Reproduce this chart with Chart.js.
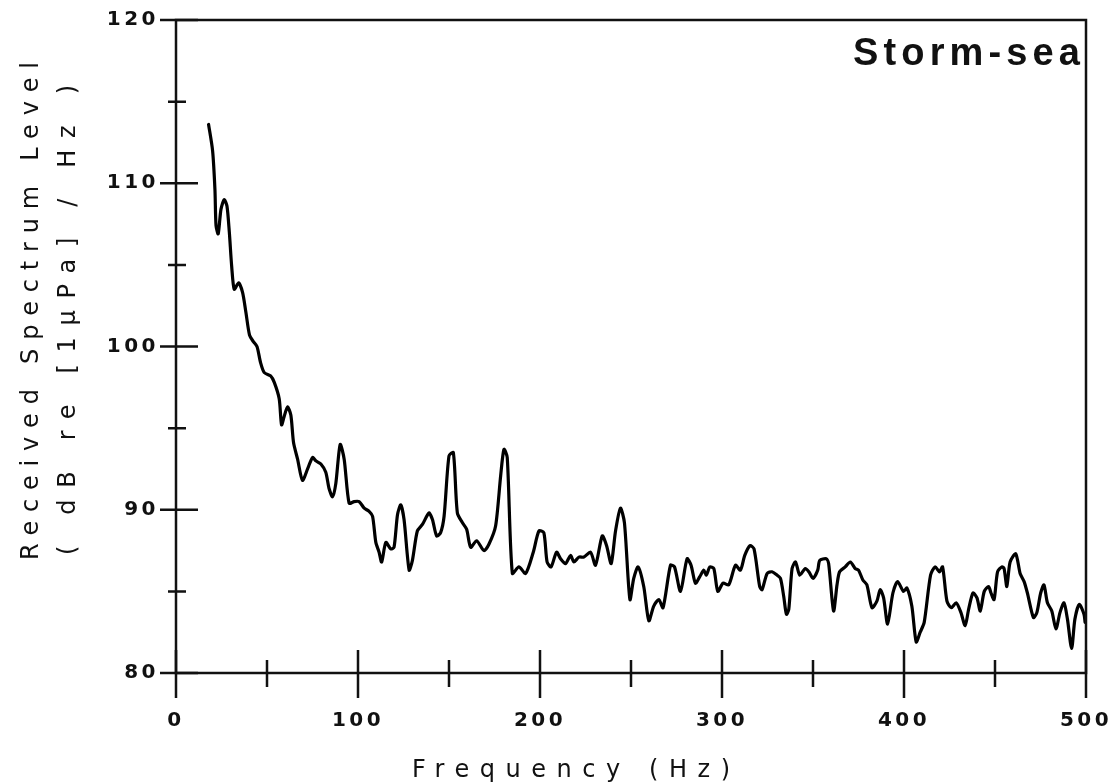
<!DOCTYPE html>
<html>
<head>
<meta charset="utf-8">
<title>Storm-sea spectrum</title>
<script src="https://cdn.jsdelivr.net/npm/chart.js@4.4.1/dist/chart.umd.min.js"></script>
<style>
  html, body { margin: 0; padding: 0; background: #fff; }
  #wrap { width: 1111px; height: 783px; }
</style>
</head>
<body>
<div id="wrap"><canvas id="spectrum" width="1111" height="783"></canvas></div>
<script>
// Frequency (Hz) and received level (dB)
const freqHz = [
  17.9, 20.1, 21.4, 22.0, 23.2, 24.7, 26.5, 28.0, 29.3, 30.6, 32.0, 34.4, 36.6, 38.4, 40.4, 42.5, 44.5, 46.5, 48.5, 52.0,
  54.0, 56.7, 58.0, 59.4, 61.3, 63.1, 64.6, 66.8, 69.5, 72.3, 75.0, 76.8, 79.6, 82.3, 84.1, 86.0, 87.8, 90.2, 92.4, 95.1,
  97.9, 100.6, 103.4, 106.1, 108.0, 109.8, 111.6, 113.0, 115.3, 118.0, 119.8, 121.7, 123.5, 125.3, 128.1, 129.9, 132.6, 135.4, 139.0, 140.9,
  143.2, 145.4, 147.3, 150.0, 152.4, 154.6, 157.4, 159.7, 161.9, 165.2, 169.2, 172.0, 175.6, 178.4, 180.2, 182.0, 184.8, 188.4, 192.1, 196.3,
  199.4, 202.1, 203.9, 206.1, 209.1, 211.3, 214.0, 216.8, 218.6, 221.4, 224.1, 227.8, 230.5, 234.2, 236.6, 239.1, 241.5, 244.2, 246.4, 249.4,
  251.5, 253.9, 257.0, 259.8, 262.5, 265.3, 267.6, 271.7, 273.9, 277.2, 280.8, 283.0, 285.4, 287.8, 290.0, 291.4, 293.3, 295.5, 297.7, 300.6,
  303.7, 307.4, 310.1, 312.5, 315.4, 317.6, 320.7, 322.0, 324.8, 327.5, 330.2, 332.1, 333.9, 335.4, 336.7, 338.5, 340.4, 342.7, 345.8, 347.7,
  350.0, 352.6, 353.7, 357.3, 358.6, 361.3, 363.2, 364.6, 367.7, 370.5, 373.2, 375.0, 377.4, 379.6, 382.4, 385.1, 386.9, 388.8, 391.0, 393.9,
  396.5, 399.7, 401.6, 404.3, 406.7, 408.9, 411.1, 414.6, 417.1, 419.5, 421.2, 423.6, 426.0, 428.7, 431.3, 433.6, 435.5, 437.9, 440.1, 441.9,
  444.1, 446.5, 447.8, 449.5, 451.4, 453.8, 455.0, 456.5, 458.3, 461.4, 463.8, 466.0, 467.8, 471.1, 473.0, 475.1, 476.9, 478.8, 481.2, 483.5,
  485.7, 487.9, 489.8, 492.1, 493.9, 496.3, 498.9, 499.5
];
const levelDb = [
  113.6, 112.0, 109.6, 107.4, 106.9, 108.4, 109.0, 108.6, 107.0, 104.9, 103.5, 103.9, 103.3, 102.1, 100.7, 100.3, 100.0, 99.0, 98.4, 98.2,
  97.8, 96.8, 95.2, 95.7, 96.3, 95.8, 94.1, 93.1, 91.8, 92.5, 93.2, 93.0, 92.8, 92.3, 91.3, 90.8, 91.6, 94.0, 93.1, 90.4,
  90.5, 90.5, 90.1, 89.9, 89.6, 88.0, 87.4, 86.8, 88.0, 87.6, 87.7, 89.7, 90.3, 89.4, 86.3, 86.9, 88.7, 89.1, 89.8, 89.4,
  88.4, 88.6, 89.6, 93.3, 93.5, 89.8, 89.2, 88.8, 87.7, 88.1, 87.5, 87.9, 89.0, 92.1, 93.7, 93.2, 86.1, 86.5, 86.1, 87.4,
  88.7, 88.6, 86.8, 86.5, 87.4, 87.0, 86.7, 87.2, 86.8, 87.1, 87.1, 87.4, 86.6, 88.4, 87.8, 86.7, 88.7, 90.1, 89.2, 84.5,
  85.8, 86.5, 85.3, 83.2, 84.1, 84.5, 84.0, 86.6, 86.5, 85.0, 87.0, 86.6, 85.5, 85.9, 86.3, 86.0, 86.5, 86.4, 85.0, 85.5,
  85.4, 86.6, 86.3, 87.2, 87.8, 87.6, 85.3, 85.1, 86.1, 86.2, 86.0, 85.8, 84.7, 83.6, 83.9, 86.4, 86.8, 86.0, 86.4, 86.2,
  85.8, 86.3, 86.9, 87.0, 86.7, 83.8, 85.4, 86.2, 86.5, 86.8, 86.4, 86.3, 85.7, 85.4, 84.0, 84.4, 85.1, 84.6, 83.0, 84.9,
  85.6, 85.0, 85.2, 84.1, 81.9, 82.5, 83.1, 86.0, 86.5, 86.2, 86.5, 84.4, 84.0, 84.3, 83.7, 82.9, 83.9, 84.9, 84.6, 83.8,
  85.0, 85.3, 84.9, 84.5, 86.2, 86.5, 86.4, 85.3, 86.8, 87.3, 86.1, 85.6, 84.9, 83.4, 83.7, 84.9, 85.4, 84.3, 83.8, 82.7,
  83.7, 84.3, 83.3, 81.5, 83.3, 84.2, 83.6, 83.1
];

// Axis ranges and labelled ticks
const xRange = [0, 500];
const yRange = [80, 120];
const xLabelTicks = [0, 100, 200, 300, 400, 500];
const yLabelTicks = [80, 90, 100, 110, 120];
const panelLabel = 'Storm-sea';
const xTitle = 'Frequency (Hz)';
const yTitleLines = ['Received Spectrum Level', '( dB re [1\u03bcPa] / Hz )'];

const INK = '#111';

// Draw text stretched to a target width with letter spacing (plotter lettering look)
function spacedText(ctx, text, startX, y, targetWidth) {
  ctx.letterSpacing = '0px';
  const w = ctx.measureText(text).width;
  const sp = (targetWidth - w) / (text.length - 1);
  ctx.letterSpacing = sp.toFixed(2) + 'px';
  ctx.textAlign = 'left';
  ctx.fillText(text, startX, y);
}

// Box, crossing tick marks and the hand-lettered titles
const framePlugin = {
  id: 'frame',
  beforeDraw(chart) {
    chart.ctx.letterSpacing = '3.5px';
  },
  afterDraw(chart) {
    const { ctx, chartArea: a, scales: { x, y } } = chart;
    ctx.save();
    ctx.letterSpacing = '0px';
    ctx.strokeStyle = INK;
    ctx.lineWidth = 2.5;
    ctx.strokeRect(a.left, a.top, a.right - a.left, a.bottom - a.top);

    ctx.beginPath();
    y.ticks.forEach(t => {
      const py = y.getPixelForValue(t.value);
      const major = yLabelTicks.includes(t.value);
      ctx.moveTo(a.left - (major ? 16 : 8), py);
      ctx.lineTo(a.left + (major ? 22 : 10), py);
    });
    x.ticks.forEach(t => {
      const px = x.getPixelForValue(t.value);
      const major = xLabelTicks.includes(t.value);
      ctx.moveTo(px, a.bottom - (major ? 23 : 13));
      ctx.lineTo(px, a.bottom + (major ? 25 : 14));
    });
    ctx.stroke();

    ctx.fillStyle = INK;
    ctx.textBaseline = 'alphabetic';

    // panel label
    ctx.font = 'bold 38px "Liberation Sans", Arial, sans-serif';
    spacedText(ctx, panelLabel, 853, 65, 227);

    // x title
    ctx.font = '24px "DejaVu Sans", sans-serif';
    spacedText(ctx, xTitle, 571 - 159, 777, 318);

    // y title, two rotated lines
    const lines = [
      { text: yTitleLines[0], bx: 38, cy: 311, len: 498 },
      { text: yTitleLines[1], bx: 75, cy: 320, len: 470 }
    ];
    lines.forEach(l => {
      ctx.save();
      ctx.translate(l.bx, l.cy);
      ctx.rotate(-Math.PI / 2);
      spacedText(ctx, l.text, -l.len / 2, 0, l.len);
      ctx.restore();
    });
    ctx.restore();
  }
};

const tickFont = { family: '"DejaVu Sans", sans-serif', size: 20, weight: 'bold' };

new Chart(document.getElementById('spectrum'), {
  type: 'line',
  data: {
    datasets: [{
      label: 'Storm-sea',
      data: freqHz.map((f, i) => ({ x: f, y: levelDb[i] })),
      borderColor: '#000',
      borderWidth: 3.2,
      pointRadius: 0,
      tension: 0.25,
      fill: false,
      borderJoinStyle: 'round',
      borderCapStyle: 'round'
    }]
  },
  options: {
    responsive: false,
    animation: false,
    layout: { padding: { top: 20, right: 25, left: 0, bottom: 0 } },
    plugins: { legend: { display: false }, tooltip: { enabled: false } },
    scales: {
      x: {
        type: 'linear',
        min: xRange[0],
        max: xRange[1],
        grid: { display: false, drawTicks: false },
        border: { display: false },
        ticks: {
          stepSize: 50,
          autoSkip: false,
          maxRotation: 0,
          padding: 36,
          color: INK,
          font: tickFont,
          callback: v => xLabelTicks.includes(v) ? String(v) : ''
        },
        afterFit: s => { s.height = 110; s.paddingLeft = 0; s.paddingRight = 0; }
      },
      y: {
        type: 'linear',
        min: yRange[0],
        max: yRange[1],
        grid: { display: false, drawTicks: false },
        border: { display: false },
        ticks: {
          stepSize: 5,
          autoSkip: false,
          padding: 17,
          color: INK,
          font: tickFont,
          callback: v => yLabelTicks.includes(v) ? String(v) : ''
        },
        afterFit: s => { s.width = 176; s.paddingTop = 0; s.paddingBottom = 0; }
      }
    }
  },
  plugins: [framePlugin]
});
</script>
</body>
</html>
